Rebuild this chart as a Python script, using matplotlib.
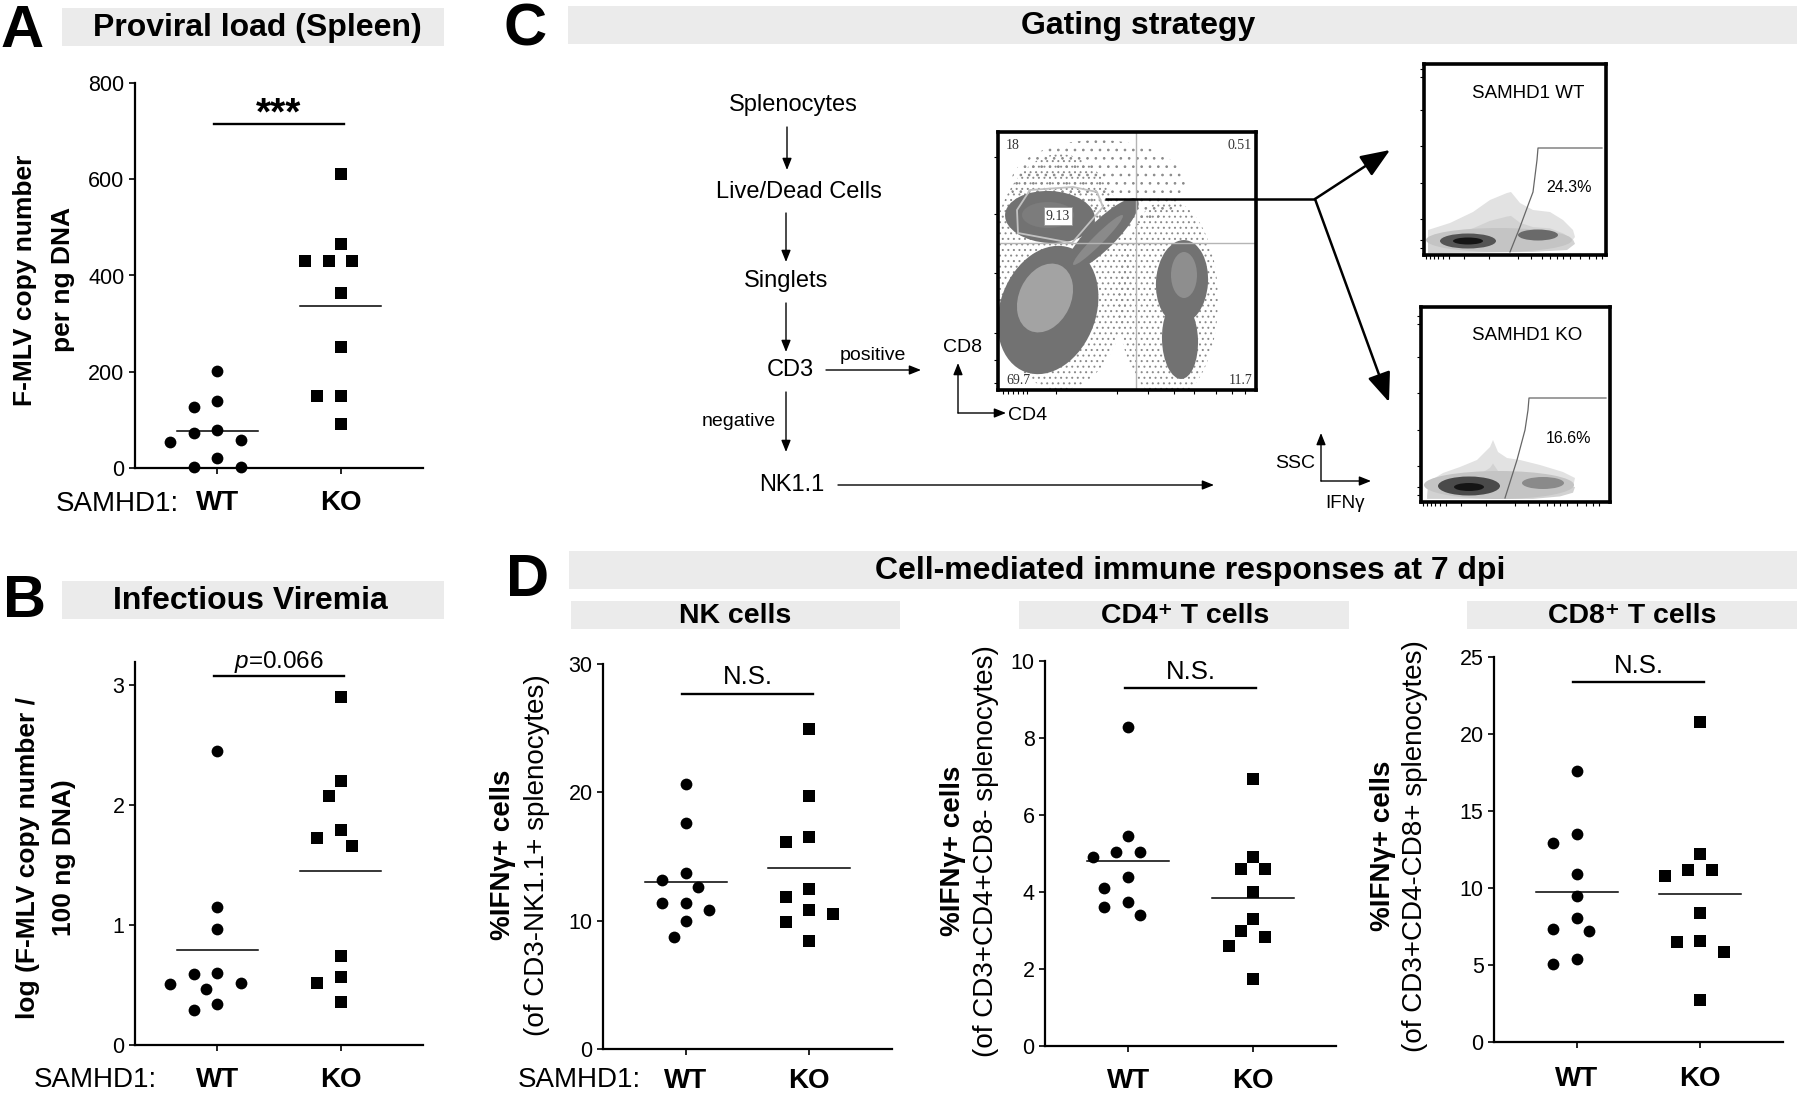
import numpy as np
import matplotlib
matplotlib.use("Agg")
import matplotlib.pyplot as plt
from matplotlib.patches import Rectangle, Ellipse, Polygon

plt.rcParams['font.family'] = ['Liberation Sans', 'DejaVu Sans']
plt.rcParams['mathtext.fontset'] = 'custom'
plt.rcParams['mathtext.rm'] = 'Liberation Sans'
plt.rcParams['mathtext.it'] = 'Liberation Sans:italic'
plt.rcParams['hatch.linewidth'] = 0.7

W, H = 1800, 1094

# ---- values ----
groups = ['WT', 'KO']

# A: proviral load, F-MLV copies per ng DNA
proviral_wt = [202, 140, 126, 79, 72, 59, 55, 20, 3, 3]
proviral_ko = [610, 465, 430, 430, 430, 364, 252, 150, 150, 91]

# B: infectious viremia, log copies / 100 ng DNA
viremia_wt = [2.45, 1.15, 0.97, 0.60, 0.59, 0.52, 0.51, 0.47, 0.34, 0.29]
viremia_ko = [2.90, 2.20, 2.07, 1.79, 1.72, 1.66, 0.74, 0.57, 0.52, 0.36]

# D: % IFNg+ cells
nk_wt = [20.65, 17.6, 13.7, 13.2, 12.65, 11.4, 11.4, 10.8, 10.0, 8.7]
nk_ko = [24.9, 19.7, 16.55, 16.1, 12.5, 11.85, 10.8, 10.55, 9.9, 8.45]
cd4_wt = [8.28, 5.45, 5.05, 5.05, 4.92, 4.40, 4.11, 3.73, 3.60, 3.41]
cd4_ko = [6.93, 4.91, 4.59, 4.59, 4.00, 3.30, 2.98, 2.82, 2.59, 1.75]
cd8_wt = [17.6, 13.5, 12.9, 10.9, 9.45, 8.07, 7.36, 7.23, 5.39, 5.09]
cd8_ko = [20.8, 12.2, 11.2, 11.2, 10.8, 8.35, 6.56, 6.51, 5.83, 2.75]

# C: gating numbers
quad_pct = ['18', '0.51', '69.7', '11.7']
cd8_gate_pct = '9.13'
hist_titles = ['SAMHD1 WT', 'SAMHD1 KO']
ifng_pct = ['24.3%', '16.6%']

fig = plt.figure(figsize=(W / 100, H / 100), dpi=100)


def px_axes(x0, y0, x1, y1):
    return fig.add_axes([x0 / W, 1 - y1 / H, (x1 - x0) / W, (y1 - y0) / H])


def swarm_x(ax, x0, values, step=0.096, diam=17):
    # greedy swarm on a grid, collision test in display pixels
    placed, xs = [], []
    for v in values:
        for k in [0, -1, 1, -2, 2, -3, 3, -4, 4]:
            p = ax.transData.transform((x0 + k * step, v))
            if all(np.hypot(*(p - q)) >= diam for q in placed):
                break
        placed.append(p)
        xs.append(x0 + k * step)
    return xs


def dot_panel(rect, wt, ko, ymax, yticks, sig_y, sig_text, sig_size, sig_weight, sig_off, xpad):
    ax = px_axes(*rect)
    ax.set_xlim(0.33, 2.67)
    ax.set_ylim(0, ymax)
    for side in ['top', 'right']:
        ax.spines[side].set_visible(False)
    for side in ['left', 'bottom']:
        ax.spines[side].set_linewidth(1.6)
    ax.set_yticks(yticks)
    ax.set_yticklabels([f'{t:g}' for t in yticks], fontsize=15.5)
    ax.set_xticks([1, 2])
    ax.set_xticklabels(groups, fontsize=20, fontweight='bold')
    ax.tick_params(axis='y', length=4.5, width=1.2, pad=3)
    ax.tick_params(axis='x', length=4, width=1.2, pad=xpad)
    for i, (vals, mk, s) in enumerate([(wt, 'o', 72), (ko, 's', 64)]):
        xs = swarm_x(ax, i + 1, vals)
        ax.scatter(xs, vals, marker=mk, s=s, c='k', linewidths=0, zorder=3, clip_on=False)
        m = np.mean(vals)
        ax.plot([i + 1 - 0.33, i + 1 + 0.33], [m, m], color='k', lw=1.1, zorder=2)
    ax.plot([0.97, 2.03], [sig_y, sig_y], color='k', lw=1.7, clip_on=False)
    ax.annotate(sig_text, xy=(1.5, sig_y), xytext=(0, sig_off), textcoords='offset points',
                ha='center', va='baseline', fontsize=sig_size, fontweight=sig_weight,
                annotation_clip=False)
    return ax


# ---- scatter panels ----
dot_panel((135, 83, 423, 468), proviral_wt, proviral_ko, 800, [0, 200, 400, 600, 800],
          714, '***', 28, 'bold', 0, 11.5)
dot_panel((135, 662, 423, 1045), viremia_wt, viremia_ko, 3.19, [0, 1, 2, 3],
          3.07, r'$p$=0.066', 17.5, 'normal', 6, 11.5)
dot_panel((603, 664, 892, 1049), nk_wt, nk_ko, 30, [0, 10, 20, 30],
          27.7, 'N.S.', 18.5, 'normal', 6.5, 9.5)
dot_panel((1045, 661, 1336, 1046), cd4_wt, cd4_ko, 10, [0, 2, 4, 6, 8, 10],
          9.29, 'N.S.', 18.5, 'normal', 6.5, 11.5)
dot_panel((1494, 657, 1783, 1042), cd8_wt, cd8_ko, 25, [0, 5, 10, 15, 20, 25],
          23.4, 'N.S.', 18.5, 'normal', 6.5, 13.5)

# ---- CD4 / CD8 dot plot (schematic) ----
fl = px_axes(998, 132, 1256, 390)
fl.set_xlim(0, 258)
fl.set_ylim(0, 258)
for sp in fl.spines.values():
    sp.set_linewidth(2.6)
fl.set_xticks([5, 10, 15, 20, 25, 29, 58, 119, 150, 176, 196, 218, 234, 247])
fl.set_yticks([7, 30, 57, 117, 176, 233])
fl.tick_params(length=3, width=0.8, labelbottom=False, labelleft=False)

# sparse outlier events around the populations
speckle_cx = [62, 170, 100]
speckle_cy = [118, 90, 205]
speckle_w = [140, 100, 175]
speckle_h = [236, 200, 90]
speckle_hatch = ['...', '...', '..']
for cx, cy, w, h, ht in zip(speckle_cx, speckle_cy, speckle_w, speckle_h, speckle_hatch):
    fl.add_patch(Ellipse((cx, cy), w, h, fill=False, hatch=ht, edgecolor='#8a8a8a', lw=0))

pop_cx = [52, 104, 50, 184, 182]
pop_cy = [173, 155, 80, 108, 50]
pop_w = [90, 100, 96, 52, 36]
pop_h = [52, 28, 132, 84, 78]
pop_ang = [-3, 45, -20, -4, 2]
for cx, cy, w, h, a in zip(pop_cx, pop_cy, pop_w, pop_h, pop_ang):
    fl.add_patch(Ellipse((cx, cy), w, h, angle=a, facecolor='#727272', edgecolor='none'))

core_cx = [50, 100, 47, 186]
core_cy = [175, 150, 92, 115]
core_w = [52, 70, 52, 26]
core_h = [26, 10, 72, 46]
core_ang = [0, 45, -25, 0]
core_col = ['#7c7c7c', '#8a8a8a', '#a3a3a3', '#8e8e8e']
for cx, cy, w, h, a, c in zip(core_cx, core_cy, core_w, core_h, core_ang, core_col):
    fl.add_patch(Ellipse((cx, cy), w, h, angle=a, facecolor=c, edgecolor='none'))

fl.axvline(138, color='#b5b5b5', lw=1)
fl.axhline(147, color='#b5b5b5', lw=1)
gate = [(19, 180), (32, 200), (75, 203), (99, 198), (105, 183), (74, 147), (20, 157)]
fl.add_patch(Polygon(gate, closed=True, fill=False, edgecolor='#c2c2c2', lw=1.3))

serif = dict(family='Liberation Serif', fontsize=10, color='#333333')
fl.text(8, 245, quad_pct[0], ha='left', va='center', **serif)
fl.text(254, 245, quad_pct[1], ha='right', va='center', **serif)
fl.text(8, 10, quad_pct[2], ha='left', va='center', **serif)
fl.text(254, 10, quad_pct[3], ha='right', va='center', **serif)
fl.text(60, 174, cd8_gate_pct, ha='center', va='center',
        bbox=dict(boxstyle='square,pad=0.15', facecolor='white', edgecolor='#999999', lw=0.6),
        **serif)

# ---- IFNg histograms (schematic) ----
hist_rects = [(1424, 64, 1606, 255), (1421, 307, 1610, 502)]
clouds = [
    [(4, 3), (4, 25), (26, 32), (49, 43), (66, 55), (83, 62), (87, 63), (96, 52), (109, 45),
     (126, 43), (139, 35), (149, 25), (151, 18), (143, 8), (109, 5)],
    [(6, 5), (7, 20), (22, 29), (39, 35), (56, 42), (69, 55), (72, 62), (77, 50), (86, 44),
     (99, 42), (119, 37), (142, 30), (154, 24), (152, 15), (139, 9), (112, 5)],
]
gates = [
    [(86, 3), (96, 28), (106, 55), (109, 63), (113, 95), (114, 107), (178, 107)],
    [(84, 4), (96, 42), (104, 72), (107, 92), (108, 104), (185, 104)],
]
blobs = [
    [(75, 15, 146, 24, '#c4c4c4'), (44, 14, 56, 15, '#555555'), (44, 14, 30, 7, '#151515'),
     (114, 20, 40, 11, '#6a6a6a')],
    [(78, 17, 150, 28, '#c4c4c4'), (48, 16, 62, 19, '#4a4a4a'), (48, 15, 30, 8, '#151515'),
     (122, 19, 42, 12, '#8a8a8a')],
]
title_xy = [(104, 162), (106, 166)]
pct_xy = [(145, 67), (148, 64)]
for rect, cloud, gt, bl, ttl, pct, txy, pxy in zip(hist_rects, clouds, gates, blobs,
                                                   hist_titles, ifng_pct, title_xy, pct_xy):
    hx = px_axes(*rect)
    bw, bh = rect[2] - rect[0], rect[3] - rect[1]
    hx.set_xlim(0, bw)
    hx.set_ylim(0, bh)
    for sp in hx.spines.values():
        sp.set_linewidth(2.6)
    hx.set_xticks([2, 6, 10, 14, 19, 25, 40, 65, 94, 107, 118, 126, 133, 139, 146, 156, 165, 172, 178])
    hx.set_yticks([7, 15, 36, 72, 109, 145, 178, 186])
    hx.tick_params(length=3, width=0.8, labelbottom=False, labelleft=False)
    hx.add_patch(Polygon(cloud, closed=True, facecolor='#e2e2e2', edgecolor='none'))
    mid = [(x, y * 0.62) for x, y in cloud]
    hx.add_patch(Polygon(mid, closed=True, facecolor='#d2d2d2', edgecolor='none'))
    for cx, cy, w, h, c in bl:
        hx.add_patch(Ellipse((cx, cy), w, h, facecolor=c, edgecolor='none'))
    gx, gy = zip(*gt)
    hx.plot(gx, gy, color='#666666', lw=0.9)
    hx.text(*txy, ttl, ha='center', va='center', fontsize=13.5)
    hx.text(*pxy, pct, ha='center', va='center', fontsize=11.5)

# ---- overlay: titles, letters, labels, flow chart ----
ov = fig.add_axes([0, 0, 1, 1])
ov.set_xlim(0, W)
ov.set_ylim(H, 0)
ov.axis('off')
ov.patch.set_visible(False)
ov.set_zorder(10)

title_boxes = [
    (62, 8, 444, 46, 'Proviral load (Spleen)', 257, 23),
    (62, 581, 444, 619, 'Infectious Viremia', 250, 23),
    (568, 6, 1797, 44, 'Gating strategy', 1138, 23),
    (569, 551, 1797, 589, 'Cell-mediated immune responses at 7 dpi', 1190, 23),
    (571, 601, 900, 629, 'NK cells', 735, 20.5),
    (1019, 601, 1349, 629, 'CD4\u207a T cells', 1185, 20.5),
    (1467, 601, 1797, 629, 'CD8\u207a T cells', 1632, 20.5),
]
for x0, y0, x1, y1, txt, tx, fs in title_boxes:
    ov.add_patch(Rectangle((x0, y0), x1 - x0, y1 - y0, facecolor='#ebebeb', edgecolor='none'))
    ov.text(tx, (y0 + y1) / 2 + 1, txt, ha='center', va='center', fontsize=fs, fontweight='bold')

for letter, x, y in [('A', 1, 47), ('B', 3, 617), ('C', 503, 46), ('D', 506, 596)]:
    ov.text(x, y, letter, ha='left', va='baseline', fontsize=43, fontweight='bold')

for x, y in [(56, 511), (34, 1087), (518, 1087)]:
    ov.text(x, y, 'SAMHD1:', ha='left', va='baseline', fontsize=20)

ylabels = [
    (25, 280, 'F-MLV copy number', 'bold', 19), (63, 280, 'per ng DNA', 'bold', 19),
    (28, 858, 'log (F-MLV copy number /', 'bold', 19), (64, 858, '100 ng DNA)', 'bold', 19),
    (503, 855, '%IFN\u03b3+ cells', 'bold', 20), (537, 855, '(of CD3-NK1.1+ splenocytes)', 'normal', 20),
    (953, 851, '%IFN\u03b3+ cells', 'bold', 20), (986, 851, '(of CD3+CD4+CD8- splenocytes)', 'normal', 20),
    (1383, 846, '%IFN\u03b3+ cells', 'bold', 20), (1415, 846, '(of CD3+CD4-CD8+ splenocytes)', 'normal', 20),
]
for x, y, txt, wgt, fs in ylabels:
    ov.text(x, y, txt, rotation=90, ha='center', va='center', fontsize=fs, fontweight=wgt)

# gating flow chart
steps = [('Splenocytes', 793, 105), ('Live/Dead Cells', 799, 192), ('Singlets', 786, 281),
         ('CD3', 790, 370), ('NK1.1', 792, 485)]
for txt, x, y in steps:
    ov.text(x, y, txt, ha='center', va='center', fontsize=17)
ov.text(873, 355, 'positive', ha='center', va='center', fontsize=14)
ov.text(739, 422, 'negative', ha='center', va='center', fontsize=14)
ov.text(962, 347, 'CD8', ha='center', va='center', fontsize=14)
ov.text(1008, 416, 'CD4', ha='left', va='center', fontsize=14)
ov.text(1295, 464, 'SSC', ha='center', va='center', fontsize=14)
ov.text(1345, 503, 'IFN\u03b3', ha='center', va='center', fontsize=13.5)

thin = dict(arrowstyle='-|>,head_length=0.5,head_width=0.2', color='k', lw=1,
            shrinkA=0, shrinkB=0, mutation_scale=14)
thin_arrows = [((787, 127), (787, 170)), ((786, 213), (786, 262)), ((786, 303), (786, 352)),
               ((826, 370), (921, 370)), ((786, 392), (786, 452)), ((838, 485), (1214, 485)),
               ((958, 413), (958, 363)), ((958, 413), (1006, 413)),
               ((1321, 481), (1321, 433)), ((1321, 481), (1371, 481))]
for (xa, ya), (xb, yb) in thin_arrows:
    ov.annotate('', xy=(xb, yb), xytext=(xa, ya), arrowprops=thin)

ov.plot([1105, 1315], [199, 199], color='k', lw=1.8, solid_capstyle='butt')
thick = dict(arrowstyle='-|>,head_length=0.5,head_width=0.2', color='k', lw=1.8,
             shrinkA=0, shrinkB=0, mutation_scale=36)
ov.annotate('', xy=(1390, 150), xytext=(1315, 199), arrowprops=thick)
ov.annotate('', xy=(1389, 402), xytext=(1315, 199), arrowprops=thick)

fig.savefig('out.png', dpi=100)
